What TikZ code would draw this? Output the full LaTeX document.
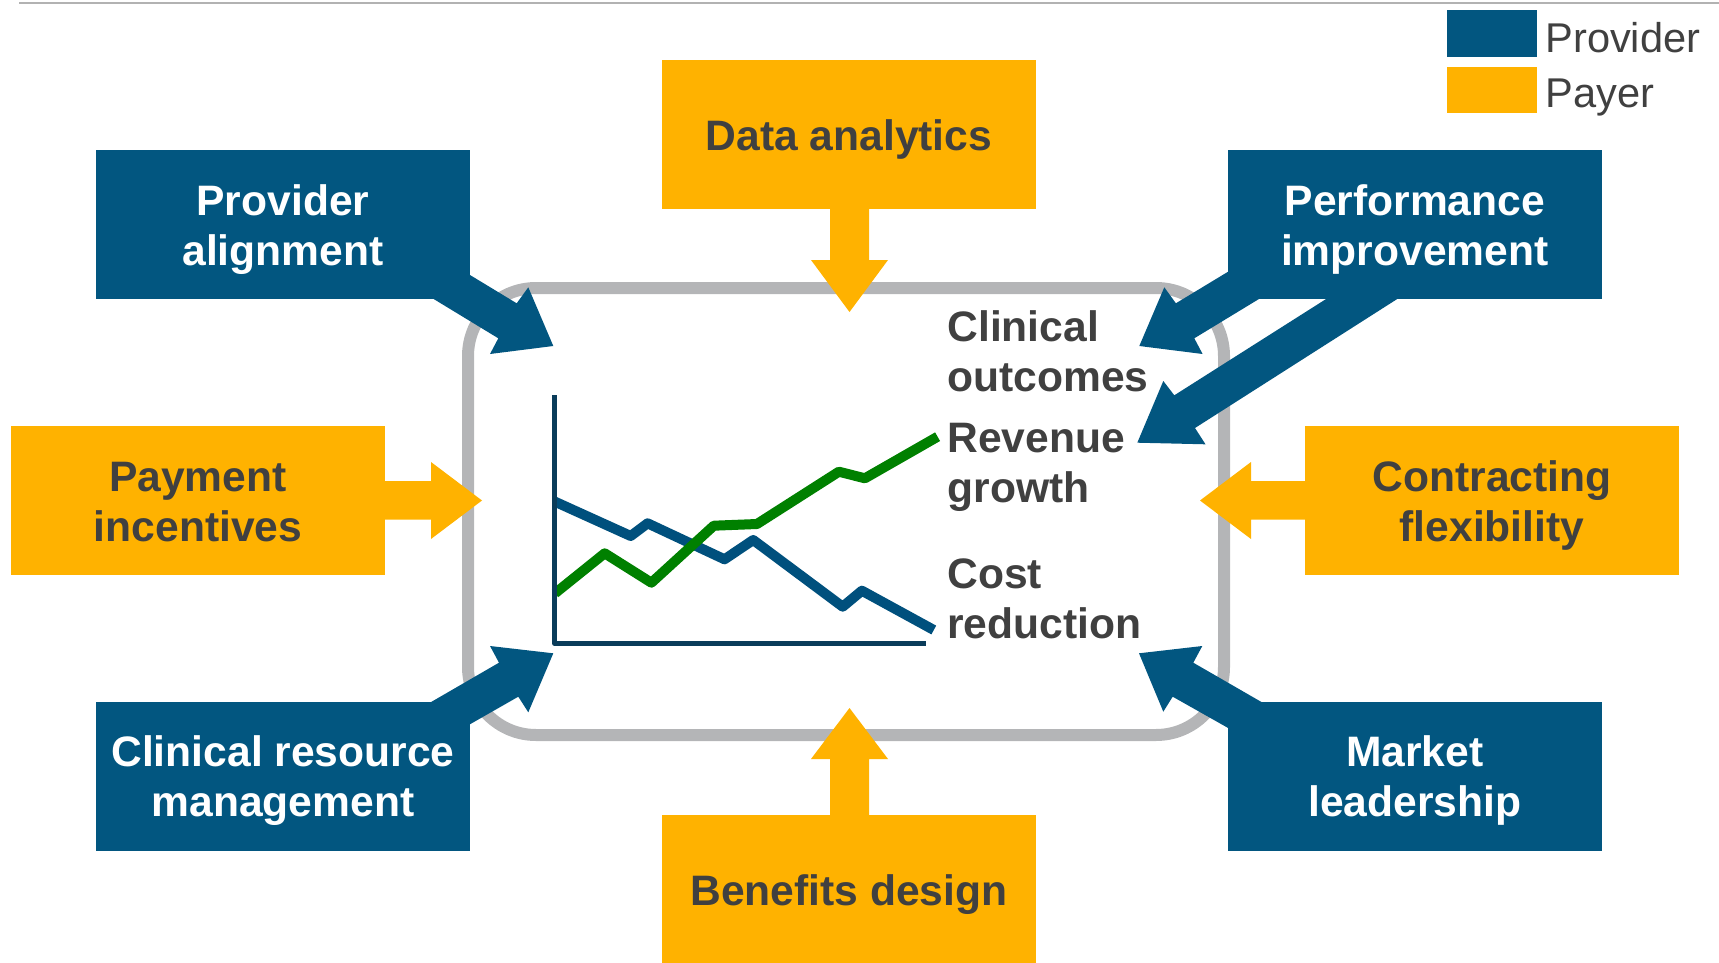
\documentclass[tikz,border=0pt]{standalone}
\usepackage{fontspec}
\setmainfont{Liberation Sans}
\definecolor{provblue}{RGB}{2,86,128}
\definecolor{payorange}{RGB}{255,178,0}
\definecolor{grayrect}{RGB}{180,181,183}
\definecolor{textgray}{RGB}{64,64,64}
\definecolor{chartgreen}{RGB}{0,128,0}
\definecolor{axisblue}{RGB}{10,60,90}
\definecolor{lineblue}{RGB}{0,80,125}
\definecolor{topline}{RGB}{178,178,178}
\newcommand{\twoline}[2]{\raisebox{0pt}[15pt][24.5pt]{\begin{tabular}[t]{@{}c@{}}#1\\#2\end{tabular}}}
\newcommand{\oneline}[1]{\raisebox{0pt}[15.5pt][0pt]{#1}}
\newcommand{\lefttwo}[2]{\begin{tabular}[t]{@{}l@{}}#1\\#2\end{tabular}}
\tikzset{
  boxbase/.style={rectangle, inner sep=0pt, minimum width=187pt, minimum height=74.5pt,
    font=\fontsize{21.3}{25}\selectfont\bfseries},
  provbox/.style={boxbase, fill=provblue, text=white},
  paybox/.style={boxbase, fill=payorange, text=textgray},
  chartlbl/.style={anchor=base west, inner sep=0pt, text=textgray,
    font=\fontsize{21.3}{25}\selectfont\bfseries},
  legbox/.style={rectangle, inner sep=0pt, minimum width=45pt, minimum height=23.3pt},
  legtxt/.style={anchor=base west, inner sep=0pt, text=textgray, font=\fontsize{20.8}{24}\selectfont},
  chartline/.style={line width=5pt, line join=round},
}
\begin{document}
\begin{tikzpicture}[x=0.5pt,y=-0.5pt]
\useasboundingbox (0,0) rectangle (1719,963);
% top rule
\coordinate (tl1) at (19,3);
\coordinate (tl2) at (1719,3);
\draw[topline, line width=1pt] (tl1) -- (tl2);
% central frame
\draw[grayrect, line width=6pt, rounded corners=34pt] (468,288) rectangle (1224,735);
% block arrows (payer)
\fill[payorange] (830,205) -- (830,260) -- (811,260) -- (849.5,312) -- (888,260) -- (869,260) -- (869,205) -- cycle;
\fill[payorange] (830,819) -- (830,759) -- (811,759) -- (849.5,708) -- (888,759) -- (869,759) -- (869,819) -- cycle;
\fill[payorange] (381,481) -- (431,481) -- (431,462) -- (482,500.5) -- (431,539) -- (431,519.5) -- (381,519.5) -- cycle;
\fill[payorange] (1309,481) -- (1251,481) -- (1251,462) -- (1200,500.5) -- (1251,539) -- (1251,519.5) -- (1309,519.5) -- cycle;
% block arrows (provider)
\fill[provblue] (435.8,254.3) -- (516.7,303.3) -- (528.3,287.3) -- (553.3,346) -- (490,354) -- (498.3,338.3) -- (399.1,278) -- cycle;
\fill[provblue] (1256.8,254.3) -- (1175.9,303.3) -- (1164.3,287.3) -- (1139.3,346) -- (1202.6,354) -- (1194.3,338.3) -- (1293.5,278) -- cycle;
\fill[provblue] (1351,283.2) -- (1174.3,395.3) -- (1163.3,381) -- (1137.3,442.7) -- (1205.5,444.3) -- (1195,428) -- (1422,283.2) -- cycle;
\fill[provblue] (397.1,721.7) -- (499,662.7) -- (490,646) -- (553.3,653.3) -- (528.3,712.3) -- (518.3,696.7) -- (435.4,744) -- cycle;
\fill[provblue] (1295.6,721.7) -- (1193.3,662.7) -- (1202.3,646) -- (1139,653.3) -- (1163.3,711.7) -- (1172.7,696.7) -- (1262.3,747.3) -- cycle;
% boxes
\node[paybox] (da) at (849,134.5) {\oneline{Data analytics}};
\node[paybox] (bd) at (849,889.5) {\oneline{Benefits design}};
\node[paybox] (pi) at (198,500.5) {\twoline{Payment}{incentives}};
\node[paybox] (cf) at (1492,500.5) {\twoline{Contracting}{flexibility}};
\node[provbox] (pa) at (283,224.5) {\twoline{Provider}{alignment}};
\node[provbox] (crm) at (283,776.2) {\twoline{Clinical resource}{management}};
\node[provbox] (perf) at (1414.8,224.5) {\twoline{Performance}{improvement}};
\node[provbox] (ml) at (1414.8,776.2) {\twoline{Market}{leadership}};
% chart
\draw[lineblue, chartline] (555,501.7) -- (630.7,536) -- (647.6,523.3) -- (724.5,559.3) -- (753.2,540) -- (842.7,606.7) -- (861.9,590.7) -- (933.8,630);
\draw[chartgreen, chartline] (555,593.3) -- (604.7,553.3) -- (651.4,582.7) -- (713.8,525.7) -- (757,524) -- (838.9,471.7) -- (864.9,478.3) -- (937.6,436.7);
\draw[axisblue, line width=2.5pt, line join=round] (554.6,395) -- (554.6,643.3) -- (926,643.3);
% chart labels
\node[chartlbl] (co) at (947,341.5) {\lefttwo{Clinical}{outcomes}};
\node[chartlbl] (rg) at (947,452.5) {\lefttwo{Revenue}{growth}};
\node[chartlbl] (cr) at (947,588) {\lefttwo{Cost}{reduction}};
% legend
\node[legbox, fill=provblue] (lp) at (1491.7,33.4) {};
\node[legbox, fill=payorange] (ly) at (1491.7,90) {};
\node[legtxt] (lpt) at (1545,52.5) {Provider};
\node[legtxt] (lyt) at (1545,108) {Payer};
\end{tikzpicture}
\end{document}
